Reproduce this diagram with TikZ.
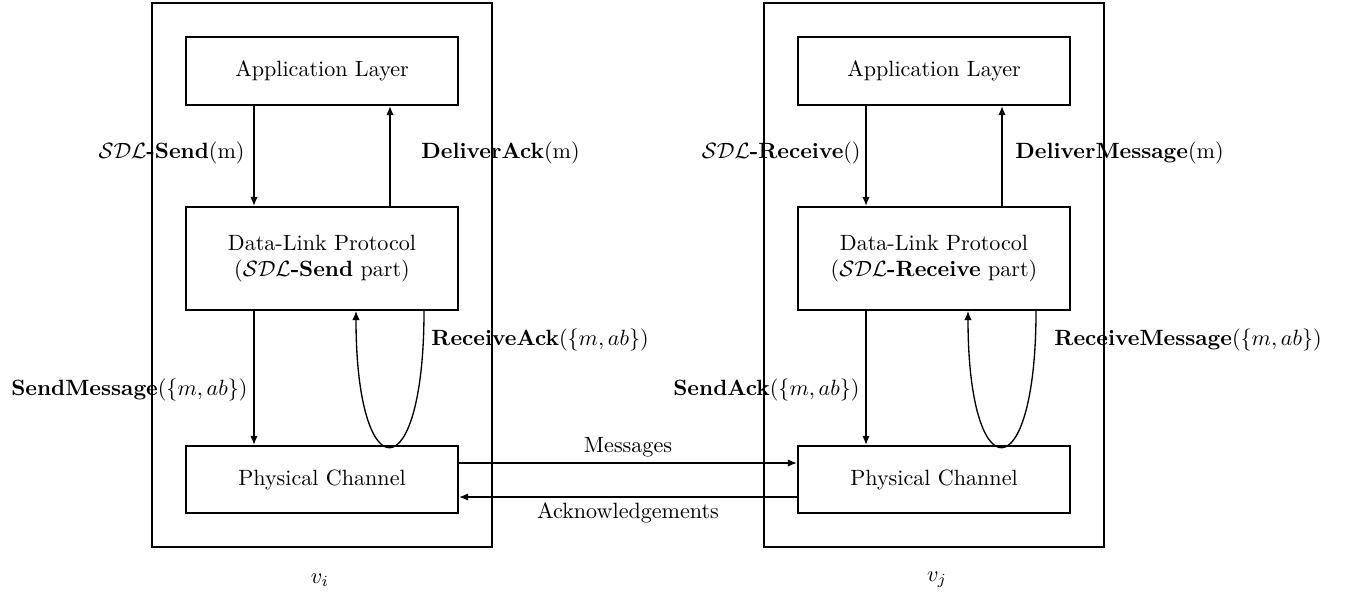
\documentclass[tikz,border=0pt]{standalone}
\usetikzlibrary{arrows.meta}
\newcommand\pxu{0.4525pt}
\begin{document}
\begin{tikzpicture}[x=0.4525pt,y=-0.4525pt,
  outerbox/.style={draw,thick,minimum width=340*\pxu,minimum height=544*\pxu,inner sep=0pt},
  layer/.style={draw,thick,minimum width=272*\pxu,align=center,inner sep=0pt},
  arr/.style={thick,-{Latex[length=4.2pt,width=3.4pt]}},
  loop/.style={semithick,-{Latex[length=4.2pt,width=3.4pt]}},
  lbl/.style={inner sep=0pt}]
\useasboundingbox (0,0) rectangle (1352,595);
% outer boxes
\node[outerbox] (vi) at (322,275) {};
\node[outerbox] (vj) at (934,275) {};
% left stack
\node[layer,minimum height=68*\pxu] (appL) at (322,71) {Application Layer};
\node[layer,minimum height=103*\pxu] (dlL) at (322,258.5) {Data-Link Protocol\\($\mathcal{SDL}$\textbf{-Send} part)};
\node[layer,minimum height=67*\pxu] (pcL) at (322,479.5) {Physical Channel};
% right stack
\node[layer,minimum height=68*\pxu] (appR) at (934,71) {Application Layer};
\node[layer,minimum height=103*\pxu] (dlR) at (934,258.5) {Data-Link Protocol\\($\mathcal{SDL}$\textbf{-Receive} part)};
\node[layer,minimum height=67*\pxu] (pcR) at (934,479.5) {Physical Channel};
% left arrows
\draw[arr] ([xshift=-68*\pxu]appL.south) -- ([xshift=-68*\pxu]dlL.north);
\draw[arr] ([xshift=68*\pxu]dlL.north) -- ([xshift=68*\pxu]appL.south);
\draw[arr] ([xshift=-68*\pxu]dlL.south) -- ([xshift=-68*\pxu]pcL.north);
\draw[loop] ([xshift=102*\pxu]dlL.south) .. controls +(0,181) and +(0,181) .. ([xshift=34*\pxu]dlL.south);
% right arrows
\draw[arr] ([xshift=-68*\pxu]appR.south) -- ([xshift=-68*\pxu]dlR.north);
\draw[arr] ([xshift=68*\pxu]dlR.north) -- ([xshift=68*\pxu]appR.south);
\draw[arr] ([xshift=-68*\pxu]dlR.south) -- ([xshift=-68*\pxu]pcR.north);
\draw[loop] ([xshift=102*\pxu]dlR.south) .. controls +(0,181) and +(0,181) .. ([xshift=34*\pxu]dlR.south);
% channel arrows
\draw[arr] ([yshift=16.5*\pxu]pcL.east) -- ([yshift=16.5*\pxu]pcR.west);
\draw[arr] ([yshift=-17.5*\pxu]pcR.west) -- ([yshift=-17.5*\pxu]pcL.east);
% labels
\node[lbl,anchor=east] (l1) at (245,153) {$\mathcal{SDL}$\textbf{-Send}(m)};
\node[lbl,anchor=west] (l2) at (421,153) {\textbf{DeliverAck}(m)};
\node[lbl,anchor=east] (l3) at (861,153) {$\mathcal{SDL}$\textbf{-Receive}()};
\node[lbl,anchor=west] (l4) at (1015,153) {\textbf{DeliverMessage}(m)};
\node[lbl,anchor=west] (l5) at (431,340) {\textbf{ReceiveAck}($\{m,ab\}$)};
\node[lbl,anchor=east] (l6) at (248,390) {\textbf{SendMessage}($\{m,ab\}$)};
\node[lbl,anchor=east] (l7) at (860,390) {\textbf{SendAck}($\{m,ab\}$)};
\node[lbl,anchor=west] (l8) at (1054,340) {\textbf{ReceiveMessage}($\{m,ab\}$)};
\node[lbl] (m) at (628,447) {Messages};
\node[lbl] (a) at (628,513) {Acknowledgements};
\node[lbl] (ni) at (320,580) {$v_i$};
\node[lbl] (nj) at (937,580) {$v_j$};
\end{tikzpicture}
\end{document}
